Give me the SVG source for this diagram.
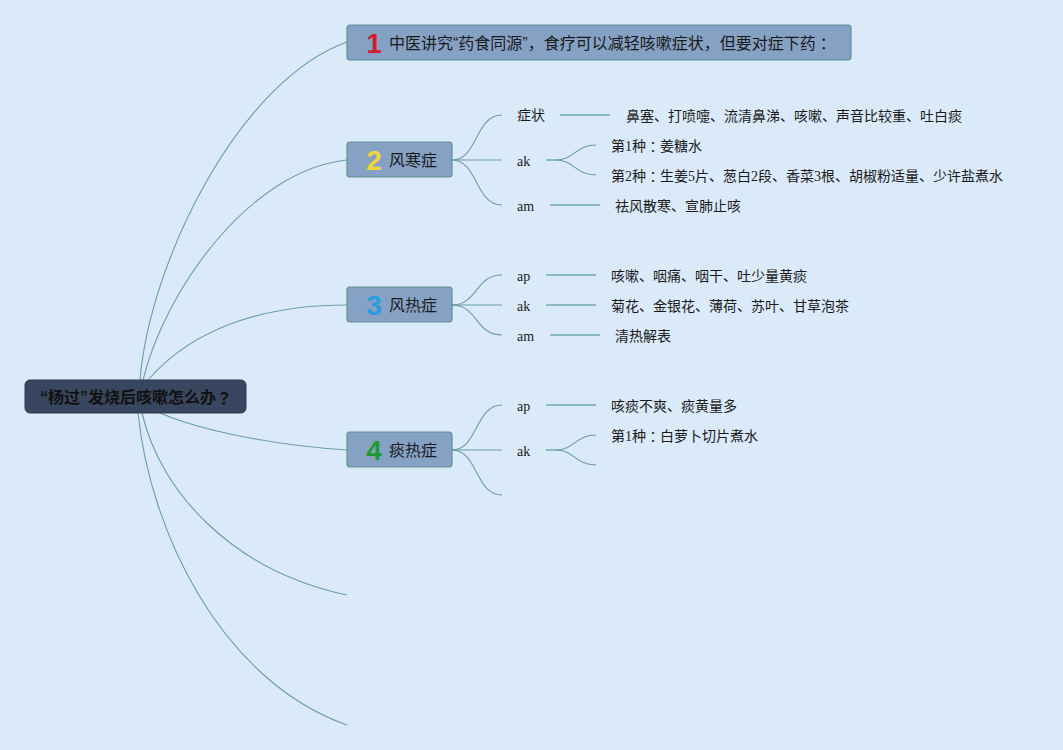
<svg xmlns="http://www.w3.org/2000/svg" width="1063" height="750" viewBox="0 0 1063 750">
<style>
.bg{fill:#dbeaf9}
.c{fill:none;stroke:#6a9ea5;stroke-width:1.1}
.l{fill:none;stroke:#8dbac0;stroke-width:2}
.main{fill:#85a2c5;stroke:#5f9097;stroke-width:1.2}
.root{fill:#38475f;stroke:#2e3b50;stroke-width:1}
.t{font-family:"Liberation Serif","Noto Sans CJK SC",serif;font-size:14px;fill:#1a1a1a;dominant-baseline:central}
.mt{font-family:"Liberation Sans","Noto Sans CJK SC",sans-serif;font-size:16px;fill:#1a1a1a;dominant-baseline:central}
.rt{font-family:"Liberation Sans","Noto Sans CJK SC",sans-serif;font-size:16px;font-weight:bold;fill:#111;dominant-baseline:central}
.fw{font-family:"Noto Sans CJK JP",sans-serif}
.num{font-family:"Liberation Sans","DejaVu Sans",sans-serif;font-size:28px;font-weight:bold;text-anchor:middle;dominant-baseline:central}
</style>
<rect class="bg" x="0" y="0" width="1063" height="750"/>
<g id="connectors">
<path class="c" d="M140,380 C150,260 240,80 347,42"/>
<path class="c" d="M143,380 C165,290 250,170 347,160"/>
<path class="c" d="M148,380 C200,320 280,305 347,305"/>
<path class="c" d="M160,413 C200,430 270,445 347,450"/>
<path class="c" d="M142,413 C160,490 230,570 347,595"/>
<path class="c" d="M138,413 C150,530 220,680 347,725"/>
<path class="c" d="M452,160 C478,160 475,115 502,115"/>
<path class="c" d="M452,160 L502,160"/>
<path class="c" d="M452,160 C478,160 475,205 502,205"/>
<path class="l" d="M560,115 L610,115"/>
<path class="l" d="M546,160 L555,160"/>
<path class="c" d="M555,160 C575,160 575,145 596,145"/>
<path class="c" d="M555,160 C575,160 575,175 596,175"/>
<path class="l" d="M550,205 L600,205"/>
<path class="c" d="M452,305 C478,305 475,275 502,275"/>
<path class="c" d="M452,305 L502,305"/>
<path class="c" d="M452,305 C478,305 475,335 502,335"/>
<path class="l" d="M546,275 L596,275"/>
<path class="l" d="M546,305 L596,305"/>
<path class="l" d="M550,335 L600,335"/>
<path class="c" d="M452,450 C478,450 475,405 502,405"/>
<path class="c" d="M452,450 L502,450"/>
<path class="c" d="M452,450 C478,450 475,495 502,495"/>
<path class="l" d="M546,405 L596,405"/>
<path class="l" d="M546,450 L555,450"/>
<path class="c" d="M555,450 C575,450 575,435 596,435"/>
<path class="c" d="M555,450 C575,450 575,465 596,465"/>
</g>
<g id="root">
<rect class="root" x="25" y="380" width="221" height="33" rx="5"/>
<text class="rt" x="40" y="397">“杨过”发烧后咳嗽怎么办<tspan class="fw">？</tspan></text>
</g>
<g id="node1">
<rect class="main" x="347" y="25" width="504" height="35" rx="3"/>
<text class="num" x="374" y="43" fill="#d21e2e">1</text>
<text class="mt" x="389" y="43" font-size="15.5">中医讲究“药食同源”，食疗可以减轻咳嗽症状，但要对症下药<tspan class="fw">：</tspan></text>
</g>
<g id="node2">
<rect class="main" x="347" y="142" width="105" height="35" rx="3"/>
<text class="num" x="374" y="160" fill="#f3d53a">2</text>
<text class="mt" x="389" y="160">风寒症</text>
</g>
<g id="node2-sub">
<text class="t" x="517" y="115">症状</text>
<text class="t" x="626" y="116">鼻塞、打喷嚏、流清鼻涕、咳嗽、声音比较重、吐白痰</text>
<text class="t" x="517" y="161">ak</text>
<text class="t" x="611" y="146">第1种<tspan class="fw">：</tspan>姜糖水</text>
<text class="t" x="611" y="176">第2种<tspan class="fw">：</tspan>生姜5片、葱白2段、香菜3根、胡椒粉适量、少许盐煮水</text>
<text class="t" x="517" y="206">am</text>
<text class="t" x="615" y="206">祛风散寒、宣肺止咳</text>
</g>
<g id="node3">
<rect class="main" x="347" y="287" width="105" height="35" rx="3"/>
<text class="num" x="374" y="305" fill="#2b9be2">3</text>
<text class="mt" x="389" y="305">风热症</text>
</g>
<g id="node3-sub">
<text class="t" x="517" y="276">ap</text>
<text class="t" x="611" y="276">咳嗽、咽痛、咽干、吐少量黄痰</text>
<text class="t" x="517" y="306">ak</text>
<text class="t" x="611" y="306">菊花、金银花、薄荷、苏叶、甘草泡茶</text>
<text class="t" x="517" y="336">am</text>
<text class="t" x="615" y="336">清热解表</text>
</g>
<g id="node4">
<rect class="main" x="347" y="432" width="105" height="35" rx="3"/>
<text class="num" x="374" y="450" fill="#1e9a30">4</text>
<text class="mt" x="389" y="450">痰热症</text>
</g>
<g id="node4-sub">
<text class="t" x="517" y="406">ap</text>
<text class="t" x="611" y="406">咳痰不爽、痰黄量多</text>
<text class="t" x="517" y="451">ak</text>
<text class="t" x="611" y="436">第1种<tspan class="fw">：</tspan>白萝卜切片煮水</text>
</g>
</svg>
